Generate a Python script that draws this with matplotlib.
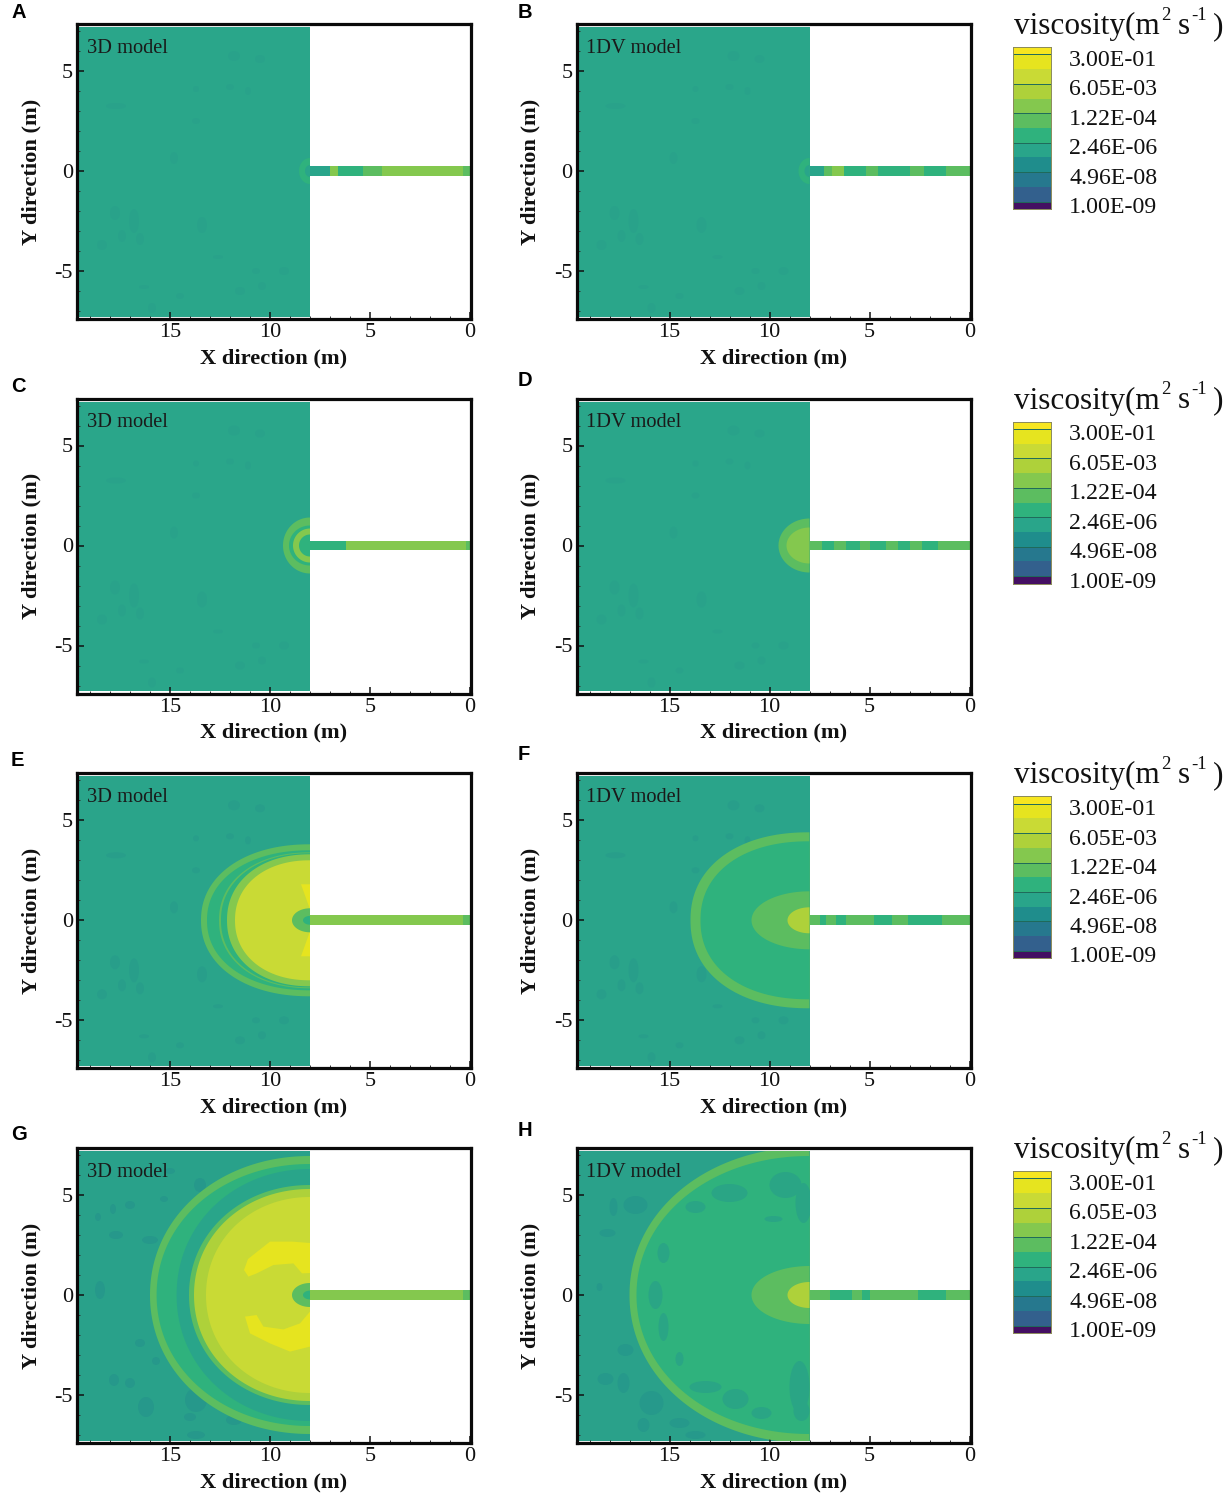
import numpy as np
import matplotlib
matplotlib.use("Agg")
import matplotlib.pyplot as plt
from matplotlib.patches import Ellipse, Rectangle

W, H = 1228, 1501
SERIF = "Liberation Serif"

# colour levels of the legend, bottom to top
level_colors = ["#440f62", "#33608d", "#26788e", "#1f8d8c", "#29a58a", "#2fb27d",
                "#5cbd60", "#84c84e", "#aed13a", "#c9da35", "#e6e41f", "#f7e620"]
legend_heights = [0.5, 1, 1, 1, 1, 1, 1, 1, 1, 1, 1, 0.5]
legend_ticks = [0.5, 2.5, 4.5, 6.5, 8.5, 10.5]
legend_labels = ["1.00E-09", "4.96E-08", "2.46E-06", "1.22E-04", "6.05E-03", "3.00E-01"]

panel_letters = ["A", "B", "C", "D", "E", "F", "G", "H"]
model_names = ["3D model", "1DV model"] * 4

# wave fronts behind the wall: (reach in x, half width in y, squareness, level)
rings_a = [(0.55, 0.65, 2, 5), (0.25, 0.3, 2, 4)]
rings_b = [(0.55, 0.65, 2, 5), (0.25, 0.3, 2, 4)]
rings_c = [(1.35, 1.4, 2, 6), (1.05, 1.0, 2, 5), (0.85, 0.85, 2, 7), (0.55, 0.55, 2, 5)]
rings_d = [(1.55, 1.35, 2, 6), (1.15, 0.9, 2, 7)]
rings_e = [(5.45, 3.8, 2.15, 6), (5.15, 3.5, 2.15, 5), (4.55, 3.4, 2.15, 6), (4.45, 3.35, 2.15, 5),
           (4.15, 3.3, 2.15, 7), (3.75, 3.0, 2.15, 9)]
rings_f = [(5.95, 4.4, 2.2, 6), (5.45, 3.95, 2.2, 5)]
rings_g = [(8.0, 6.95, 2.05, 6), (7.67, 6.55, 2.05, 5), (6.67, 6.3, 2.05, 4), (6.05, 5.5, 2.05, 6),
           (5.8, 5.3, 2.05, 8), (5.2, 4.9, 2.05, 9)]
rings_h = [(9.0, 7.4, 2.05, 6), (8.65, 6.95, 2.05, 5)]

# blobs at the channel mouth, drawn last
core_e = [(0.9, 0.6, 2, 6), (0.35, 0.22, 2, 5)]
core_f = [(2.9, 1.45, 2, 6), (1.1, 0.65, 2, 8)]
core_g = [(0.9, 0.6, 2, 6), (0.35, 0.22, 2, 5)]
core_h = [(2.9, 1.45, 2, 6), (1.1, 0.65, 2, 8)]

# channel colour segments, x edges from wall to tip and the level in each
chan_edges_a = [8, 7, 6.6, 5.35, 4.4, 0.35, 0]
chan_levels_a = [4, 7, 5, 6, 7, 6]
chan_edges_b = [8, 7.3, 6.9, 6.3, 5.2, 4.6, 3, 2.3, 1.2, 0]
chan_levels_b = [4, 6, 7, 5, 6, 5, 6, 5, 6]
chan_edges_c = [8, 6.2, 0.2, 0]
chan_levels_c = [5, 7, 6]
chan_edges_d = [8, 7.4, 6.8, 6.2, 5.5, 5, 4.2, 3.6, 3, 2.4, 1.6, 0]
chan_levels_d = [6, 5, 6, 5, 6, 5, 6, 5, 6, 5, 6]
chan_edges_e = [8, 0.35, 0]
chan_levels_e = [7, 6]
chan_edges_f = [8, 7.5, 7.2, 6.7, 6.2, 5.7, 4.8, 3.9, 3.1, 2.8, 1.4, 0]
chan_levels_f = [6, 5, 6, 5, 6, 6, 5, 6, 5, 5, 6]
chan_edges_g = [8, 0.35, 0]
chan_levels_g = [7, 6]
chan_edges_h = [8, 7, 5.9, 5.4, 5, 4.6, 4.1, 2.6, 1.2, 0]
chan_levels_h = [6, 5, 6, 5, 6, 6, 6, 5, 6]

# darker eddies in the background: x, y, width, height
spots_light = [(17.7, 3.25, 1.0, 0.3), (16.8, -2.5, 0.5, 1.2), (17.75, -2.1, 0.5, 0.7),
               (17.4, -3.25, 0.4, 0.6), (16.5, -3.4, 0.4, 0.6), (18.4, -3.7, 0.5, 0.5),
               (13.4, -2.7, 0.5, 0.8), (14.8, 0.65, 0.4, 0.6), (12.0, 4.2, 0.4, 0.3),
               (11.1, 4.0, 0.3, 0.4), (13.7, 4.1, 0.3, 0.3), (11.8, 5.75, 0.6, 0.5),
               (10.5, 5.6, 0.5, 0.4), (9.3, -5.0, 0.5, 0.4), (10.7, -5.0, 0.4, 0.3),
               (10.4, -5.75, 0.4, 0.4), (11.5, -6.0, 0.5, 0.4), (14.5, -6.25, 0.4, 0.3),
               (15.9, -6.85, 0.4, 0.5), (16.3, -5.8, 0.5, 0.2), (12.6, -4.3, 0.5, 0.2),
               (13.7, 2.5, 0.4, 0.3)]
spots_g = [(13.7, -5.25, 1.1, 1.2), (16.2, -5.6, 0.8, 1.0), (18.5, 0.25, 0.5, 0.9),
           (16.0, 2.75, 0.8, 0.4), (17.7, 3.0, 0.7, 0.4), (17.85, 4.3, 0.3, 0.5),
           (17.0, 4.5, 0.5, 0.4), (13.5, 5.5, 0.6, 0.7), (16.5, -2.4, 0.5, 0.4),
           (17.8, -4.25, 0.5, 0.6), (17.0, -4.4, 0.5, 0.5), (11.8, -6.25, 0.8, 0.5),
           (14.0, -6.1, 0.6, 0.4), (13.7, -7.0, 0.9, 0.4), (15.0, 6.2, 0.5, 0.3),
           (18.6, 3.9, 0.3, 0.4), (15.3, 4.8, 0.4, 0.3), (15.7, -3.3, 0.4, 0.4)]
spots_h_outer = [(16.7, 4.5, 1.2, 0.9), (17.8, 4.4, 0.4, 0.9), (15.9, -5.4, 1.2, 1.2),
                 (17.3, -4.4, 0.6, 1.0), (18.2, -4.2, 0.8, 0.6), (14.5, -6.4, 1.0, 0.5),
                 (13.7, -7.0, 1.0, 0.4), (18.5, 0.4, 0.3, 0.4), (18.1, 3.1, 0.8, 0.4),
                 (17.2, -2.75, 0.8, 0.6), (16.3, -6.5, 0.6, 0.7)]
spots_h_inner = [(12.0, 5.1, 1.8, 0.9), (9.2, 5.5, 1.6, 1.3), (8.3, 4.6, 0.8, 2.0),
                 (13.7, 4.4, 1.0, 0.6), (9.8, 3.8, 0.9, 0.3), (15.3, 2.1, 0.6, 1.0),
                 (15.7, 0.0, 0.7, 1.4), (15.3, -1.6, 0.5, 1.4), (14.5, -3.2, 0.4, 0.7),
                 (13.2, -4.6, 1.6, 0.6), (11.7, -5.2, 1.3, 1.0), (10.4, -5.9, 1.0, 0.6),
                 (8.5, -4.6, 1.0, 2.6), (8.4, -5.8, 0.8, 1.0)]

# yellow crescents in panel G, triangles in panel E
crescent_up_x = [11.3, 11.1, 10.0, 8.9, 8.0, 8.0, 8.4, 8.83, 9.83, 10.67, 11.08]
crescent_up_y = [1.25, 1.8, 2.67, 2.67, 2.6, 1.1, 1.08, 1.58, 1.5, 1.08, 0.92]
crescent_lo_x = [11.25, 10.67, 10.33, 9.33, 8.5, 8.0, 8.0, 9.0, 10.0, 11.0]
crescent_lo_y = [-1.08, -1.0, -1.58, -1.72, -1.42, -0.83, -2.58, -2.83, -2.42, -1.92]
wedge_up_x = [8.0, 8.45, 8.0]
wedge_up_y = [0.55, 1.8, 1.8]
wedge_lo_x = [8.0, 8.45, 8.0]
wedge_lo_y = [-0.55, -1.8, -1.8]


def half_front(ax, front, clip, zorder):
    reach, half, square, level = front
    t = np.linspace(-np.pi / 2, np.pi / 2, 181)
    px = 8 + reach * np.abs(np.cos(t)) ** (2 / square)
    py = half * np.sign(np.sin(t)) * np.abs(np.sin(t)) ** (2 / square)
    poly = ax.fill(px, py, color=level_colors[level], lw=0, zorder=zorder)[0]
    poly.set_clip_path(clip)


def draw_spots(ax, spots, clip, color, zorder):
    for sx, sy, sw, sh in spots:
        e = Ellipse((sx, sy), sw, sh, color=color, lw=0, zorder=zorder)
        ax.add_patch(e)
        e.set_clip_path(clip)


def axes_px(left, top, right, bottom):
    return fig.add_axes([left / W, 1 - bottom / H, (right - left) / W, (bottom - top) / H])


plt.rcParams["font.family"] = SERIF
plt.rcParams["axes.unicode_minus"] = False
fig = plt.figure(figsize=(W / 100, H / 100), dpi=100)

row_tops = [24, 398.5, 773.3, 1148]
col_lefts = [77, 576.5]
letter_xy = [(11, 12), (518, 12), (11, 386), (518, 381), (11, 760), (518, 755), (11, 1135), (518, 1131)]

rings = [rings_a, rings_b, rings_c, rings_d, rings_e, rings_f, rings_g, rings_h]
cores = [[], [], [], [], core_e, core_f, core_g, core_h]
chan_edges = [chan_edges_a, chan_edges_b, chan_edges_c, chan_edges_d,
              chan_edges_e, chan_edges_f, chan_edges_g, chan_edges_h]
chan_levels = [chan_levels_a, chan_levels_b, chan_levels_c, chan_levels_d,
               chan_levels_e, chan_levels_f, chan_levels_g, chan_levels_h]
spot_sets = [spots_light] * 6 + [spots_g, spots_h_outer]
spot_shades = ["#29a28a", "#29a28a", "#29a28a", "#29a28a", "#289e8a", "#289e8a", "#26988b", "#26998b"]
bg_shades = ["#2aa68a", "#2aa68a", "#2aa68a", "#2aa68a", "#2aa48a", "#2aa48a", "#29a18a", "#2aa18a"]

for i in range(8):
    row, col = i // 2, i % 2
    top = row_tops[row]
    left = col_lefts[col]
    ax = axes_px(left, top, left + 394, top + 295)
    ax.set_xlim(19.65, -0.05)
    ax.set_ylim(-7.4, 7.35)

    domain = Rectangle((8, -7.28), 11.6, 14.48, fc=bg_shades[i], lw=0, zorder=1)
    ax.add_patch(domain)
    draw_spots(ax, spot_sets[i], domain, spot_shades[i], 1.5)

    for front in rings[i]:
        half_front(ax, front, domain, 2)
    if i == 7:
        draw_spots(ax, spots_h_inner, domain, "#2aa585", 2.5)
    if i == 4:
        ax.fill(wedge_up_x, wedge_up_y, color=level_colors[10], lw=0, zorder=3)
        ax.fill(wedge_lo_x, wedge_lo_y, color=level_colors[10], lw=0, zorder=3)
    if i == 6:
        ax.fill(crescent_up_x, crescent_up_y, color=level_colors[10], lw=0, zorder=3)
        ax.fill(crescent_lo_x, crescent_lo_y, color=level_colors[10], lw=0, zorder=3)
    for front in cores[i]:
        half_front(ax, front, domain, 4)

    ax.barh(0, np.diff(chan_edges[i]), left=chan_edges[i][:-1], height=0.48,
            color=[level_colors[k] for k in chan_levels[i]], lw=0, zorder=5)

    ax.set_xticks([0, 5, 10, 15])
    ax.set_xticks(np.arange(0, 20), minor=True)
    ax.set_yticks([-5, 0, 5])
    ax.set_yticks(np.arange(-7, 8), minor=True)
    ax.tick_params(which="major", direction="in", length=5, width=1.1, labelsize=16, pad=3,
                   color="#111111", labelcolor="#111111", zorder=6)
    ax.tick_params(which="minor", direction="in", length=2.5, width=0.7, color="#333333")
    ax.set_xlabel("X direction (m)", fontsize=16.2, fontweight="bold", labelpad=4.2, color="#111111")
    ax.set_ylabel("Y direction (m)", fontsize=16.2, fontweight="bold", labelpad=9.5, color="#111111")
    for sp in ax.spines.values():
        sp.set_linewidth(2.3)
        sp.set_color("#0a0a0a")
        sp.set_zorder(7)

    ax.text(19.15, 6.13, model_names[i], fontsize=14.7, color="#1a1a1a",
            va="center", ha="left", zorder=8)
    lx, ly = letter_xy[i]
    fig.text(lx / W, 1 - ly / H, panel_letters[i], fontsize=14.5, fontweight="bold",
             family="Liberation Sans", ha="left", va="center")

    if col == 1:
        off = top - 24
        base = 1 - (34 + off) / H
        fig.text(1014 / W, base, "viscosity(m", fontsize=22.5, color="#111111", va="baseline")
        fig.text(1161 / W, 1 - (20 + off) / H, "2", fontsize=13.5, color="#111111", va="baseline")
        fig.text(1178 / W, base, "s", fontsize=22.5, color="#111111", va="baseline")
        fig.text(1191 / W, 1 - (20 + off) / H, "-1", fontsize=13.5, color="#111111", va="baseline")
        fig.text(1213 / W, base, ")", fontsize=22.5, color="#111111", va="baseline")

        lax = axes_px(1013, 47 + off, 1051, 209 + off)
        lax.bar(0, legend_heights, bottom=np.r_[0, np.cumsum(legend_heights)[:-1]], width=1,
                color=level_colors, lw=0)
        lax.set_xlim(-0.5, 0.5)
        lax.set_ylim(0, sum(legend_heights))
        lax.hlines(legend_ticks, -0.5, 0.5, color="#1f6a5a", lw=0.7)
        lax.set_xticks([])
        lax.yaxis.tick_right()
        # the labels sit a little under their contour line in the reference
        lax.set_yticks(np.array(legend_ticks) - 0.24)
        lax.set_yticklabels(legend_labels)
        lax.tick_params(axis="y", length=0, pad=13, labelsize=17.2, labelcolor="#111111")
        for sp in lax.spines.values():
            sp.set_linewidth(0.7)
            sp.set_color("#8a8a5a")

fig.savefig("out.png", dpi=100)
